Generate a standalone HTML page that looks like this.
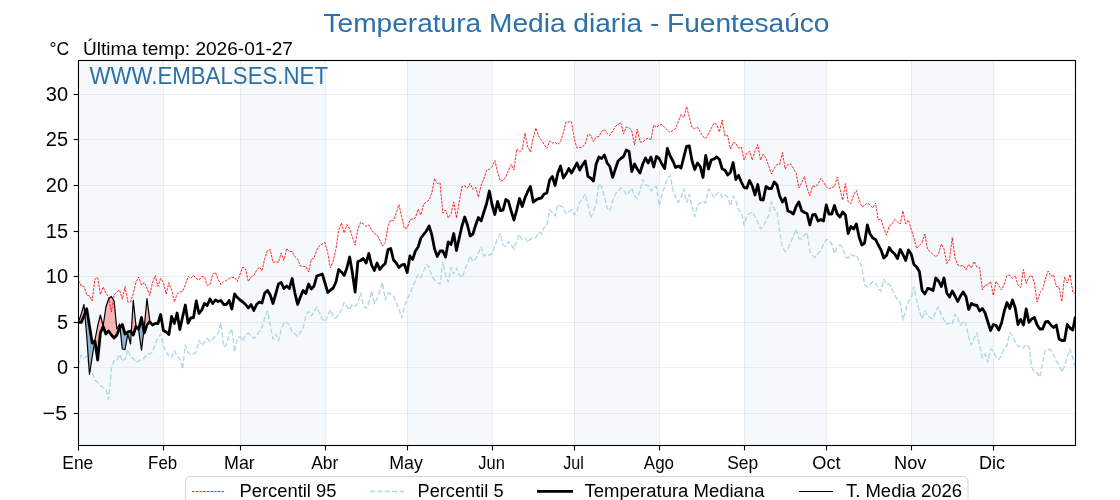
<!DOCTYPE html><html><head><meta charset="utf-8"><style>html,body{margin:0;padding:0;background:#fff;width:1120px;height:500px;overflow:hidden}</style></head><body><svg width="1120" height="500" viewBox="0 0 1120 500" style="display:block;will-change:transform;font-family:'Liberation Sans', sans-serif"><rect width="1120" height="500" fill="#fff"/><rect x="78.50" y="60.5" width="84.91" height="385" fill="#f5f9fc"/><rect x="240.10" y="60.5" width="84.91" height="385" fill="#f5f9fc"/><rect x="407.18" y="60.5" width="84.91" height="385" fill="#f5f9fc"/><rect x="574.26" y="60.5" width="84.91" height="385" fill="#f5f9fc"/><rect x="744.08" y="60.5" width="82.17" height="385" fill="#f5f9fc"/><rect x="911.16" y="60.5" width="82.17" height="385" fill="#f5f9fc"/><line x1="78.5" x2="1075.5" y1="413.5" y2="413.5" stroke="#b0b0b0" stroke-opacity="0.2" stroke-width="1.1"/><line x1="78.5" x2="1075.5" y1="367.5" y2="367.5" stroke="#b0b0b0" stroke-opacity="0.2" stroke-width="1.1"/><line x1="78.5" x2="1075.5" y1="322.5" y2="322.5" stroke="#b0b0b0" stroke-opacity="0.2" stroke-width="1.1"/><line x1="78.5" x2="1075.5" y1="276.5" y2="276.5" stroke="#b0b0b0" stroke-opacity="0.2" stroke-width="1.1"/><line x1="78.5" x2="1075.5" y1="231.5" y2="231.5" stroke="#b0b0b0" stroke-opacity="0.2" stroke-width="1.1"/><line x1="78.5" x2="1075.5" y1="185.5" y2="185.5" stroke="#b0b0b0" stroke-opacity="0.2" stroke-width="1.1"/><line x1="78.5" x2="1075.5" y1="139.5" y2="139.5" stroke="#b0b0b0" stroke-opacity="0.2" stroke-width="1.1"/><line x1="78.5" x2="1075.5" y1="94.5" y2="94.5" stroke="#b0b0b0" stroke-opacity="0.2" stroke-width="1.1"/><line x1="163.5" x2="163.5" y1="60.5" y2="445.5" stroke="#b0b0b0" stroke-opacity="0.2" stroke-width="1.1"/><line x1="240.5" x2="240.5" y1="60.5" y2="445.5" stroke="#b0b0b0" stroke-opacity="0.2" stroke-width="1.1"/><line x1="325.5" x2="325.5" y1="60.5" y2="445.5" stroke="#b0b0b0" stroke-opacity="0.2" stroke-width="1.1"/><line x1="407.5" x2="407.5" y1="60.5" y2="445.5" stroke="#b0b0b0" stroke-opacity="0.2" stroke-width="1.1"/><line x1="492.5" x2="492.5" y1="60.5" y2="445.5" stroke="#b0b0b0" stroke-opacity="0.2" stroke-width="1.1"/><line x1="574.5" x2="574.5" y1="60.5" y2="445.5" stroke="#b0b0b0" stroke-opacity="0.2" stroke-width="1.1"/><line x1="659.5" x2="659.5" y1="60.5" y2="445.5" stroke="#b0b0b0" stroke-opacity="0.2" stroke-width="1.1"/><line x1="744.5" x2="744.5" y1="60.5" y2="445.5" stroke="#b0b0b0" stroke-opacity="0.2" stroke-width="1.1"/><line x1="826.5" x2="826.5" y1="60.5" y2="445.5" stroke="#b0b0b0" stroke-opacity="0.2" stroke-width="1.1"/><line x1="911.5" x2="911.5" y1="60.5" y2="445.5" stroke="#b0b0b0" stroke-opacity="0.2" stroke-width="1.1"/><line x1="993.5" x2="993.5" y1="60.5" y2="445.5" stroke="#b0b0b0" stroke-opacity="0.2" stroke-width="1.1"/><path d="M78.50,322.00 L81.24,314.00 L81.24,322.40 L78.50,322.40ZM81.24,314.00 L83.98,304.50 L83.98,316.00 L81.24,322.40ZM83.98,304.50 L84.79,313.86 L83.98,316.00ZM94.75,341.13 L94.93,340.00 L94.93,341.00ZM94.93,340.00 L97.67,326.00 L97.67,360.00 L94.93,341.00ZM97.67,326.00 L100.41,315.00 L100.41,333.00 L97.67,360.00ZM100.41,315.00 L103.15,326.00 L103.15,326.50 L100.41,333.00ZM103.15,326.00 L105.89,307.00 L105.89,334.00 L103.15,326.50ZM105.89,307.00 L108.63,299.00 L108.63,331.00 L105.89,334.00ZM108.63,299.00 L111.37,296.50 L111.37,335.00 L108.63,331.00ZM111.37,296.50 L114.11,301.00 L114.11,338.00 L111.37,335.00ZM114.11,301.00 L116.85,329.00 L116.85,335.00 L114.11,338.00ZM116.85,329.00 L119.59,324.00 L119.59,328.00 L116.85,335.00ZM119.59,324.00 L119.97,327.51 L119.59,328.00ZM131.29,332.09 L133.28,300.40 L133.28,335.00ZM133.28,300.40 L136.02,326.20 L136.02,326.50 L133.28,335.00ZM136.02,326.20 L136.38,326.83 L136.02,326.50ZM143.84,330.73 L144.24,327.40 L144.24,333.00ZM144.24,327.40 L146.98,298.60 L146.98,325.00 L144.24,333.00ZM146.98,298.60 L149.71,320.20 L149.71,321.50 L146.98,325.00Z" fill="#ff0000" fill-opacity="0.28"/><path d="M84.79,313.86 L86.72,336.00 L86.72,308.80ZM86.72,336.00 L89.46,374.50 L89.46,326.00 L86.72,308.80ZM89.46,374.50 L92.20,357.00 L92.20,343.00 L89.46,326.00ZM92.20,357.00 L94.75,341.13 L92.20,343.00ZM119.97,327.51 L122.32,349.00 L122.32,324.50ZM122.32,349.00 L125.06,349.60 L125.06,334.00 L122.32,324.50ZM125.06,349.60 L127.80,334.00 L127.80,332.00 L125.06,334.00ZM127.80,334.00 L130.54,344.00 L130.54,331.00 L127.80,332.00ZM130.54,344.00 L131.29,332.09 L130.54,331.00ZM136.38,326.83 L138.76,331.00 L138.76,329.00ZM138.76,331.00 L141.50,350.20 L141.50,317.50 L138.76,329.00ZM141.50,350.20 L143.84,330.73 L141.50,317.50Z" fill="#4682b4" fill-opacity="0.57"/><svg x="0" y="0" width="1120" height="500" overflow="hidden"><clipPath id="c"><rect x="78.5" y="60.5" width="997.0" height="385"/></clipPath><g clip-path="url(#c)" fill="none" stroke-linejoin="round"><polyline points="78.50,280.50 81.24,286.00 83.98,286.50 86.72,295.00 89.46,296.00 92.20,301.00 94.93,279.00 97.67,277.50 100.41,294.50 103.15,287.00 105.89,293.00 108.63,297.00 111.37,312.00 114.11,295.00 116.85,292.00 119.59,290.00 122.32,299.50 125.06,286.50 127.80,302.00 130.54,302.00 133.28,293.50 136.02,282.00 138.76,277.00 141.50,285.00 144.24,282.50 146.98,288.00 149.71,295.50 152.45,283.00 155.19,275.50 157.93,286.50 160.67,278.50 163.41,282.50 166.15,294.00 168.89,282.50 171.63,290.00 174.37,302.00 177.10,294.00 179.84,292.00 182.58,291.50 185.32,285.00 188.06,276.50 190.80,278.00 193.54,275.50 196.28,278.50 199.02,280.00 201.76,276.50 204.49,277.00 207.23,285.50 209.97,284.50 212.71,274.00 215.45,272.50 218.19,279.50 220.93,284.50 223.67,281.50 226.41,280.50 229.15,278.50 231.88,277.50 234.62,277.50 237.36,281.50 240.10,274.00 242.84,267.00 245.58,269.00 248.32,281.50 251.06,277.00 253.80,275.50 256.54,270.50 259.27,267.00 262.01,270.50 264.75,258.50 267.49,250.50 270.23,249.50 272.97,262.50 275.71,261.50 278.45,262.50 281.19,253.00 283.93,260.50 286.66,248.50 289.40,251.50 292.14,251.50 294.88,256.50 297.62,259.00 300.36,266.00 303.10,266.50 305.84,266.50 308.58,272.00 311.32,259.50 314.05,258.00 316.79,250.00 319.53,245.50 322.27,244.00 325.01,242.50 327.75,253.00 330.49,268.00 333.23,261.00 335.97,249.00 338.71,230.00 341.45,223.00 344.18,233.00 346.92,224.50 349.66,229.00 352.40,237.00 355.14,245.00 357.88,229.00 360.62,222.50 363.36,224.00 366.10,226.50 368.84,225.00 371.57,230.00 374.31,233.50 377.05,235.00 379.79,240.00 382.53,246.00 385.27,242.50 388.01,226.00 390.75,220.00 393.49,220.50 396.23,213.00 398.96,204.50 401.70,217.00 404.44,228.50 407.18,228.00 409.92,220.00 412.66,219.00 415.40,218.00 418.14,209.00 420.88,215.00 423.62,204.00 426.35,202.00 429.09,200.00 431.83,193.00 434.57,178.50 437.31,183.50 440.05,183.00 442.79,213.00 445.53,210.00 448.27,218.00 451.01,214.00 453.74,202.00 456.48,218.00 459.22,202.00 461.96,186.50 464.70,186.00 467.44,188.00 470.18,183.50 472.92,189.50 475.66,187.50 478.40,197.00 481.13,185.00 483.87,179.00 486.61,170.50 489.35,169.00 492.09,166.50 494.83,160.50 497.57,172.00 500.31,181.00 503.05,180.50 505.79,177.00 508.52,170.00 511.26,164.50 514.00,170.00 516.74,149.00 519.48,152.00 522.22,149.50 524.96,133.00 527.70,147.00 530.44,152.00 533.18,138.00 535.91,128.00 538.65,136.00 541.39,140.00 544.13,144.50 546.87,148.50 549.61,141.00 552.35,143.00 555.09,142.50 557.83,144.50 560.57,141.50 563.30,133.00 566.04,122.00 568.78,122.00 571.52,121.50 574.26,139.00 577.00,148.00 579.74,147.50 582.48,147.00 585.22,144.00 587.96,134.50 590.70,135.00 593.43,141.50 596.17,137.00 598.91,136.50 601.65,131.50 604.39,129.50 607.13,133.50 609.87,135.50 612.61,131.00 615.35,126.50 618.09,124.50 620.82,122.50 623.56,134.00 626.30,127.00 629.04,127.50 631.78,131.00 634.52,145.00 637.26,129.00 640.00,142.00 642.74,142.00 645.48,139.50 648.21,138.00 650.95,140.00 653.69,125.00 656.43,127.50 659.17,125.00 661.91,124.50 664.65,127.50 667.39,130.00 670.13,132.50 672.87,130.50 675.60,128.50 678.34,121.50 681.08,114.50 683.82,117.50 686.56,106.50 689.30,117.00 692.04,127.50 694.78,128.50 697.52,127.50 700.26,132.00 702.99,136.50 705.73,138.50 708.47,134.00 711.21,128.50 713.95,123.00 716.69,124.50 719.43,132.00 722.17,120.00 724.91,136.00 727.65,135.50 730.38,149.00 733.12,142.50 735.86,143.50 738.60,148.00 741.34,147.00 744.08,160.00 746.82,153.00 749.56,151.50 752.30,160.00 755.04,151.00 757.77,144.50 760.51,160.00 763.25,154.00 765.99,158.50 768.73,166.00 771.47,174.00 774.21,168.50 776.95,164.50 779.69,164.50 782.43,152.50 785.16,169.00 787.90,164.50 790.64,164.00 793.38,168.50 796.12,173.00 798.86,188.00 801.60,183.00 804.34,176.50 807.08,188.00 809.82,196.00 812.55,186.00 815.29,186.50 818.03,184.00 820.77,178.50 823.51,182.00 826.25,187.00 828.99,189.00 831.73,187.50 834.47,186.50 837.21,177.00 839.95,189.00 842.68,200.00 845.42,183.50 848.16,202.00 850.90,203.50 853.64,195.00 856.38,190.50 859.12,200.00 861.86,207.00 864.60,205.50 867.34,203.00 870.07,205.00 872.81,208.00 875.55,203.00 878.29,220.00 881.03,219.00 883.77,228.00 886.51,235.00 889.25,226.00 891.99,224.00 894.73,219.50 897.46,222.00 900.20,224.00 902.94,211.00 905.68,224.00 908.42,220.00 911.16,229.00 913.90,238.00 916.64,248.50 919.38,245.50 922.12,242.50 924.85,234.00 927.59,249.50 930.33,252.00 933.07,254.50 935.81,257.00 938.55,254.00 941.29,244.00 944.03,249.00 946.77,263.50 949.51,259.50 952.24,237.50 954.98,258.00 957.72,265.00 960.46,266.00 963.20,265.50 965.94,269.50 968.68,264.50 971.42,268.00 974.16,261.50 976.90,267.00 979.63,267.50 982.37,290.00 985.11,285.00 987.85,285.00 990.59,281.50 993.33,295.50 996.07,281.50 998.81,285.50 1001.55,290.00 1004.29,284.00 1007.02,275.50 1009.76,275.00 1012.50,278.50 1015.24,275.50 1017.98,285.00 1020.72,287.50 1023.46,269.50 1026.20,283.50 1028.94,277.00 1031.68,275.50 1034.41,283.00 1037.15,302.00 1039.89,293.00 1042.63,289.50 1045.37,279.00 1048.11,271.00 1050.85,276.50 1053.59,275.00 1056.33,286.50 1059.07,287.00 1061.80,301.50 1064.54,277.00 1067.28,283.00 1070.02,274.50 1072.76,292.00 1075.50,294.00" stroke="#ff0000" stroke-width="0.85" stroke-dasharray="2.57 1.11"/><polyline points="78.50,365.40 81.24,354.90 83.98,358.20 86.72,356.00 89.46,368.10 92.20,372.50 94.93,380.20 97.67,382.40 100.41,385.70 103.15,387.40 105.89,389.60 108.63,399.00 111.37,368.10 114.11,360.40 116.85,359.90 119.59,354.40 122.32,361.50 125.06,359.00 127.80,349.40 130.54,357.00 133.28,358.50 136.02,362.60 138.76,361.00 141.50,359.30 144.24,358.00 146.98,354.00 149.71,353.80 152.45,352.00 155.19,344.00 157.93,338.00 160.67,334.00 163.41,346.00 166.15,352.00 168.89,356.00 171.63,357.50 174.37,350.50 177.10,356.00 179.84,359.00 182.58,369.00 185.32,345.00 188.06,353.00 190.80,354.00 193.54,354.00 196.28,352.00 199.02,340.50 201.76,345.50 204.49,342.00 207.23,338.50 209.97,341.50 212.71,339.00 215.45,336.00 218.19,333.00 220.93,323.00 223.67,347.00 226.41,345.00 229.15,334.00 231.88,329.00 234.62,352.00 237.36,338.00 240.10,337.00 242.84,341.00 245.58,335.00 248.32,333.00 251.06,336.00 253.80,338.50 256.54,336.00 259.27,331.00 262.01,327.00 264.75,318.00 267.49,311.00 270.23,325.00 272.97,339.00 275.71,334.00 278.45,340.50 281.19,330.00 283.93,322.00 286.66,322.50 289.40,325.00 292.14,332.50 294.88,333.50 297.62,336.50 300.36,332.00 303.10,328.00 305.84,316.00 308.58,311.50 311.32,316.00 314.05,312.00 316.79,307.00 319.53,313.00 322.27,319.00 325.01,321.50 327.75,315.50 330.49,309.50 333.23,317.00 335.97,318.00 338.71,314.50 341.45,310.00 344.18,302.50 346.92,306.50 349.66,310.00 352.40,304.00 355.14,306.00 357.88,303.00 360.62,293.00 363.36,305.00 366.10,308.50 368.84,303.00 371.57,291.00 374.31,303.50 377.05,299.00 379.79,290.50 382.53,282.50 385.27,300.00 388.01,293.00 390.75,294.00 393.49,296.00 396.23,303.00 398.96,309.00 401.70,318.00 404.44,307.00 407.18,299.00 409.92,294.00 412.66,287.00 415.40,281.00 418.14,274.50 420.88,277.50 423.62,271.00 426.35,264.50 429.09,267.00 431.83,276.50 434.57,280.00 437.31,282.50 440.05,284.00 442.79,261.50 445.53,275.00 448.27,282.00 451.01,267.50 453.74,274.00 456.48,268.00 459.22,275.00 461.96,277.50 464.70,270.00 467.44,263.00 470.18,256.00 472.92,261.50 475.66,259.00 478.40,253.00 481.13,247.00 483.87,256.00 486.61,254.00 489.35,255.00 492.09,254.00 494.83,246.00 497.57,238.50 500.31,233.50 503.05,245.00 505.79,246.50 508.52,241.50 511.26,245.00 514.00,249.00 516.74,241.00 519.48,234.50 522.22,240.00 524.96,238.00 527.70,242.50 530.44,239.00 533.18,238.00 535.91,237.50 538.65,232.00 541.39,234.00 544.13,227.50 546.87,226.00 549.61,209.50 552.35,212.50 555.09,216.00 557.83,204.50 560.57,206.00 563.30,207.50 566.04,213.50 568.78,212.00 571.52,209.50 574.26,215.00 577.00,211.00 579.74,202.00 582.48,199.00 585.22,194.00 587.96,204.50 590.70,218.00 593.43,211.50 596.17,204.00 598.91,183.50 601.65,187.00 604.39,197.00 607.13,208.00 609.87,211.00 612.61,201.00 615.35,194.00 618.09,191.00 620.82,188.00 623.56,190.00 626.30,195.00 629.04,192.00 631.78,188.00 634.52,196.00 637.26,198.50 640.00,191.00 642.74,179.50 645.48,185.00 648.21,185.50 650.95,191.00 653.69,188.00 656.43,186.50 659.17,206.00 661.91,195.00 664.65,186.50 667.39,178.00 670.13,175.50 672.87,190.00 675.60,197.00 678.34,202.50 681.08,197.00 683.82,189.00 686.56,202.50 689.30,194.50 692.04,207.00 694.78,216.50 697.52,205.00 700.26,203.00 702.99,201.00 705.73,203.00 708.47,189.00 711.21,192.50 713.95,197.50 716.69,194.00 719.43,192.00 722.17,197.50 724.91,195.00 727.65,197.00 730.38,206.00 733.12,196.00 735.86,201.00 738.60,210.00 741.34,212.00 744.08,225.00 746.82,216.00 749.56,213.50 752.30,212.00 755.04,217.00 757.77,222.00 760.51,229.00 763.25,226.00 765.99,221.00 768.73,215.00 771.47,202.00 774.21,209.00 776.95,212.00 779.69,231.00 782.43,248.00 785.16,251.50 787.90,249.00 790.64,243.00 793.38,236.00 796.12,229.00 798.86,238.50 801.60,239.00 804.34,235.00 807.08,232.50 809.82,251.00 812.55,255.50 815.29,257.50 818.03,253.50 820.77,251.00 823.51,244.00 826.25,239.50 828.99,240.50 831.73,244.00 834.47,253.50 837.21,247.00 839.95,245.00 842.68,247.50 845.42,257.00 848.16,258.00 850.90,254.50 853.64,256.00 856.38,255.00 859.12,261.00 861.86,267.00 864.60,284.50 867.34,287.00 870.07,285.00 872.81,281.50 875.55,283.00 878.29,289.00 881.03,291.00 883.77,279.00 886.51,284.50 889.25,284.00 891.99,289.50 894.73,295.00 897.46,300.00 900.20,302.00 902.94,320.00 905.68,310.00 908.42,301.00 911.16,298.00 913.90,287.00 916.64,300.00 919.38,311.00 922.12,319.00 924.85,311.00 927.59,316.00 930.33,317.50 933.07,319.00 935.81,311.00 938.55,307.00 941.29,315.00 944.03,320.00 946.77,324.50 949.51,323.00 952.24,324.00 954.98,314.00 957.72,318.00 960.46,325.50 963.20,321.00 965.94,324.00 968.68,338.00 971.42,345.00 974.16,338.00 976.90,333.00 979.63,346.00 982.37,358.00 985.11,354.00 987.85,362.00 990.59,349.00 993.33,351.00 996.07,357.00 998.81,359.50 1001.55,355.00 1004.29,349.00 1007.02,345.00 1009.76,332.50 1012.50,336.00 1015.24,342.00 1017.98,346.50 1020.72,346.00 1023.46,348.00 1026.20,344.50 1028.94,347.00 1031.68,367.00 1034.41,372.50 1037.15,373.00 1039.89,377.00 1042.63,362.00 1045.37,350.00 1048.11,349.00 1050.85,350.00 1053.59,355.00 1056.33,361.00 1059.07,365.00 1061.80,372.00 1064.54,366.00 1067.28,357.00 1070.02,349.00 1072.76,358.00 1075.50,368.00" stroke="#add8e6" stroke-width="1.39" stroke-dasharray="5.14 2.22"/><polyline points="78.50,322.40 81.24,322.40 83.98,316.00 86.72,308.80 89.46,326.00 92.20,343.00 94.93,341.00 97.67,360.00 100.41,333.00 103.15,326.50 105.89,334.00 108.63,331.00 111.37,335.00 114.11,338.00 116.85,335.00 119.59,328.00 122.32,324.50 125.06,334.00 127.80,332.00 130.54,331.00 133.28,335.00 136.02,326.50 138.76,329.00 141.50,317.50 144.24,333.00 146.98,325.00 149.71,321.50 152.45,325.00 155.19,323.50 157.93,323.50 160.67,314.50 163.41,330.50 166.15,332.00 168.89,334.50 171.63,316.50 174.37,323.50 177.10,313.00 179.84,329.50 182.58,317.00 185.32,305.00 188.06,323.00 190.80,318.00 193.54,317.50 196.28,301.00 199.02,313.50 201.76,310.00 204.49,303.50 207.23,305.50 209.97,299.00 212.71,303.50 215.45,300.00 218.19,301.50 220.93,300.50 223.67,304.50 226.41,304.50 229.15,300.50 231.88,309.00 234.62,294.00 237.36,297.50 240.10,300.00 242.84,302.00 245.58,304.50 248.32,308.00 251.06,304.50 253.80,310.50 256.54,304.50 259.27,302.00 262.01,303.00 264.75,293.00 267.49,290.50 270.23,295.00 272.97,303.50 275.71,294.00 278.45,284.00 281.19,282.50 283.93,288.50 286.66,286.00 289.40,288.50 292.14,278.50 294.88,293.00 297.62,304.50 300.36,297.00 303.10,290.50 305.84,293.50 308.58,284.00 311.32,289.00 314.05,286.00 316.79,276.00 319.53,275.00 322.27,274.00 325.01,283.00 327.75,292.50 330.49,290.00 333.23,288.00 335.97,282.00 338.71,269.50 341.45,272.00 344.18,275.50 346.92,268.00 349.66,257.00 352.40,273.00 355.14,292.00 357.88,261.50 360.62,260.50 363.36,258.50 366.10,263.00 368.84,253.50 371.57,265.00 374.31,270.50 377.05,263.00 379.79,269.50 382.53,266.00 385.27,263.50 388.01,249.50 390.75,248.50 393.49,260.00 396.23,263.00 398.96,267.50 401.70,265.00 404.44,264.50 407.18,272.50 409.92,256.00 412.66,259.50 415.40,251.00 418.14,247.00 420.88,238.00 423.62,234.50 426.35,231.00 429.09,226.00 431.83,235.00 434.57,249.00 437.31,256.50 440.05,251.00 442.79,251.00 445.53,257.00 448.27,242.00 451.01,244.50 453.74,233.50 456.48,250.50 459.22,238.00 461.96,226.00 464.70,217.00 467.44,225.00 470.18,236.00 472.92,234.00 475.66,225.00 478.40,217.50 481.13,221.00 483.87,212.00 486.61,203.50 489.35,191.00 492.09,205.00 494.83,214.50 497.57,201.50 500.31,210.50 503.05,210.00 505.79,199.50 508.52,201.50 511.26,211.50 514.00,220.00 516.74,210.00 519.48,198.50 522.22,206.50 524.96,198.00 527.70,191.50 530.44,186.50 533.18,202.00 535.91,200.00 538.65,198.50 541.39,198.00 544.13,194.00 546.87,193.00 549.61,180.00 552.35,176.50 555.09,185.50 557.83,173.00 560.57,166.00 563.30,178.00 566.04,174.00 568.78,168.50 571.52,173.00 574.26,168.00 577.00,163.00 579.74,170.00 582.48,165.00 585.22,161.00 587.96,176.50 590.70,178.00 593.43,181.00 596.17,164.00 598.91,157.00 601.65,158.50 604.39,155.00 607.13,163.00 609.87,166.50 612.61,177.50 615.35,169.00 618.09,161.00 620.82,158.50 623.56,156.50 626.30,150.00 629.04,151.50 631.78,171.50 634.52,164.00 637.26,169.00 640.00,173.00 642.74,164.00 645.48,158.00 648.21,163.00 650.95,157.00 653.69,167.00 656.43,156.50 659.17,158.50 661.91,164.00 664.65,168.50 667.39,148.50 670.13,156.00 672.87,161.00 675.60,167.50 678.34,166.00 681.08,168.00 683.82,157.00 686.56,146.50 689.30,146.00 692.04,161.00 694.78,169.50 697.52,163.00 700.26,166.50 702.99,177.50 705.73,155.50 708.47,169.00 711.21,160.00 713.95,159.00 716.69,157.00 719.43,159.50 722.17,169.00 724.91,170.00 727.65,175.00 730.38,172.50 733.12,162.50 735.86,179.50 738.60,175.50 741.34,182.00 744.08,187.50 746.82,188.00 749.56,180.50 752.30,186.00 755.04,195.00 757.77,184.50 760.51,199.50 763.25,200.00 765.99,186.50 768.73,188.50 771.47,188.50 774.21,182.00 776.95,185.00 779.69,196.00 782.43,202.00 785.16,198.00 787.90,211.00 790.64,212.00 793.38,214.00 796.12,206.50 798.86,202.00 801.60,210.50 804.34,212.50 807.08,213.50 809.82,225.00 812.55,215.00 815.29,214.50 818.03,221.00 820.77,219.50 823.51,221.00 826.25,205.00 828.99,214.00 831.73,214.00 834.47,205.50 837.21,214.00 839.95,217.00 842.68,212.00 845.42,215.00 848.16,233.50 850.90,226.50 853.64,229.00 856.38,224.00 859.12,237.00 861.86,245.00 864.60,243.00 867.34,225.00 870.07,234.00 872.81,238.00 875.55,239.50 878.29,245.00 881.03,250.00 883.77,258.00 886.51,255.50 889.25,247.50 891.99,251.50 894.73,254.00 897.46,258.50 900.20,249.50 902.94,254.50 905.68,260.50 908.42,250.00 911.16,254.00 913.90,264.50 916.64,267.00 919.38,271.50 922.12,290.50 924.85,294.00 927.59,288.50 930.33,289.00 933.07,290.50 935.81,278.00 938.55,281.00 941.29,286.50 944.03,278.00 946.77,293.00 949.51,297.00 952.24,291.00 954.98,296.00 957.72,301.50 960.46,296.00 963.20,292.00 965.94,296.50 968.68,309.50 971.42,303.50 974.16,305.00 976.90,305.50 979.63,311.00 982.37,308.50 985.11,313.00 987.85,322.00 990.59,330.50 993.33,324.50 996.07,325.50 998.81,330.00 1001.55,323.00 1004.29,311.00 1007.02,302.50 1009.76,308.50 1012.50,300.00 1015.24,308.00 1017.98,324.50 1020.72,319.50 1023.46,325.00 1026.20,309.00 1028.94,322.50 1031.68,319.00 1034.41,317.50 1037.15,325.00 1039.89,329.00 1042.63,329.00 1045.37,322.00 1048.11,321.50 1050.85,325.00 1053.59,327.50 1056.33,325.00 1059.07,339.00 1061.80,340.50 1064.54,340.50 1067.28,324.50 1070.02,328.00 1072.76,330.00 1075.50,316.50" stroke="#000" stroke-width="2.8"/><polyline points="78.50,322.00 81.24,314.00 83.98,304.50 86.72,336.00 89.46,374.50 92.20,357.00 94.93,340.00 97.67,326.00 100.41,315.00 103.15,326.00 105.89,307.00 108.63,299.00 111.37,296.50 114.11,301.00 116.85,329.00 119.59,324.00 122.32,349.00 125.06,349.60 127.80,334.00 130.54,344.00 133.28,300.40 136.02,326.20 138.76,331.00 141.50,350.20 144.24,327.40 146.98,298.60 149.71,320.20" stroke="#000" stroke-width="1.2"/></g></svg><rect x="78.5" y="60.5" width="997.0" height="385" fill="none" stroke="#000" stroke-width="1.1"/><line x1="73.6" x2="78.5" y1="413.50" y2="413.50" stroke="#000" stroke-width="1.1"/><text x="67.1" y="420.10" font-size="20" text-anchor="end" textLength="24.5" lengthAdjust="spacingAndGlyphs">−5</text><line x1="73.6" x2="78.5" y1="367.50" y2="367.50" stroke="#000" stroke-width="1.1"/><text x="68.1" y="374.10" font-size="20" text-anchor="end">0</text><line x1="73.6" x2="78.5" y1="322.50" y2="322.50" stroke="#000" stroke-width="1.1"/><text x="68.1" y="329.10" font-size="20" text-anchor="end">5</text><line x1="73.6" x2="78.5" y1="276.50" y2="276.50" stroke="#000" stroke-width="1.1"/><text x="68.1" y="283.10" font-size="20" text-anchor="end">10</text><line x1="73.6" x2="78.5" y1="231.50" y2="231.50" stroke="#000" stroke-width="1.1"/><text x="68.1" y="238.10" font-size="20" text-anchor="end">15</text><line x1="73.6" x2="78.5" y1="185.50" y2="185.50" stroke="#000" stroke-width="1.1"/><text x="68.1" y="192.10" font-size="20" text-anchor="end">20</text><line x1="73.6" x2="78.5" y1="139.50" y2="139.50" stroke="#000" stroke-width="1.1"/><text x="68.1" y="146.10" font-size="20" text-anchor="end">25</text><line x1="73.6" x2="78.5" y1="94.50" y2="94.50" stroke="#000" stroke-width="1.1"/><text x="68.1" y="101.10" font-size="20" text-anchor="end">30</text><line x1="78.50" x2="78.50" y1="445.5" y2="450.4" stroke="#000" stroke-width="1.1"/><text x="62.32" y="469" font-size="18.6" textLength="30.95" lengthAdjust="spacingAndGlyphs">Ene</text><line x1="163.50" x2="163.50" y1="445.5" y2="450.4" stroke="#000" stroke-width="1.1"/><text x="148.11" y="469" font-size="18.6" textLength="29.09" lengthAdjust="spacingAndGlyphs">Feb</text><line x1="240.50" x2="240.50" y1="445.5" y2="450.4" stroke="#000" stroke-width="1.1"/><text x="224.03" y="469" font-size="18.6" textLength="30.76" lengthAdjust="spacingAndGlyphs">Mar</text><line x1="325.50" x2="325.50" y1="445.5" y2="450.4" stroke="#000" stroke-width="1.1"/><text x="311.22" y="469" font-size="18.6" textLength="27.07" lengthAdjust="spacingAndGlyphs">Abr</text><line x1="407.50" x2="407.50" y1="445.5" y2="450.4" stroke="#000" stroke-width="1.1"/><text x="389.24" y="469" font-size="18.6" textLength="33.7" lengthAdjust="spacingAndGlyphs">May</text><line x1="492.50" x2="492.50" y1="445.5" y2="450.4" stroke="#000" stroke-width="1.1"/><text x="478.34" y="469" font-size="18.6" textLength="26.53" lengthAdjust="spacingAndGlyphs">Jun</text><line x1="574.50" x2="574.50" y1="445.5" y2="450.4" stroke="#000" stroke-width="1.1"/><text x="563.25" y="469" font-size="18.6" textLength="20.63" lengthAdjust="spacingAndGlyphs">Jul</text><line x1="659.50" x2="659.50" y1="445.5" y2="450.4" stroke="#000" stroke-width="1.1"/><text x="643.87" y="469" font-size="18.6" textLength="30.14" lengthAdjust="spacingAndGlyphs">Ago</text><line x1="744.50" x2="744.50" y1="445.5" y2="450.4" stroke="#000" stroke-width="1.1"/><text x="727.21" y="469" font-size="18.6" textLength="31.02" lengthAdjust="spacingAndGlyphs">Sep</text><line x1="826.50" x2="826.50" y1="445.5" y2="450.4" stroke="#000" stroke-width="1.1"/><text x="812.34" y="469" font-size="18.6" textLength="28.29" lengthAdjust="spacingAndGlyphs">Oct</text><line x1="911.50" x2="911.50" y1="445.5" y2="450.4" stroke="#000" stroke-width="1.1"/><text x="894.01" y="469" font-size="18.6" textLength="32.35" lengthAdjust="spacingAndGlyphs">Nov</text><line x1="993.50" x2="993.50" y1="445.5" y2="450.4" stroke="#000" stroke-width="1.1"/><text x="978.92" y="469" font-size="18.6" textLength="26.06" lengthAdjust="spacingAndGlyphs">Dic</text><text x="576.5" y="31.8" font-size="26" fill="#2d6fa7" text-anchor="middle" textLength="506" lengthAdjust="spacingAndGlyphs">Temperatura Media diaria - Fuentesaúco</text><text x="49.5" y="54.8" font-size="17.6">°C</text><text x="83" y="54.8" font-size="17.6" textLength="210" lengthAdjust="spacingAndGlyphs">Última temp: 2026-01-27</text><text x="89.5" y="84.1" font-size="23.0" fill="#2d6fa7" textLength="238.5" lengthAdjust="spacingAndGlyphs">WWW.EMBALSES.NET</text><rect x="185.5" y="476.5" width="782.5" height="40" rx="4.5" fill="#fff" fill-opacity="0.8" stroke="#d5d5d5" stroke-width="1.0"/><line x1="192" x2="225" y1="491.5" y2="491.5" stroke="#ff0000" stroke-width="0.85" stroke-dasharray="2.57 1.11"/><text x="239.5" y="496.8" font-size="17.6" textLength="97" lengthAdjust="spacingAndGlyphs">Percentil 95</text><line x1="370" x2="404" y1="491.5" y2="491.5" stroke="#add8e6" stroke-width="1.39" stroke-dasharray="5.14 2.22"/><text x="417.5" y="496.8" font-size="17.6" textLength="86" lengthAdjust="spacingAndGlyphs">Percentil 5</text><line x1="537" x2="573" y1="491.4" y2="491.4" stroke="#000" stroke-width="2.8"/><text x="584.5" y="496.8" font-size="17.6" textLength="180" lengthAdjust="spacingAndGlyphs">Temperatura Mediana</text><line x1="799" x2="833" y1="491.5" y2="491.5" stroke="#000" stroke-width="1.2"/><text x="846" y="496.8" font-size="17.6" textLength="116" lengthAdjust="spacingAndGlyphs">T. Media 2026</text></svg></body></html>
